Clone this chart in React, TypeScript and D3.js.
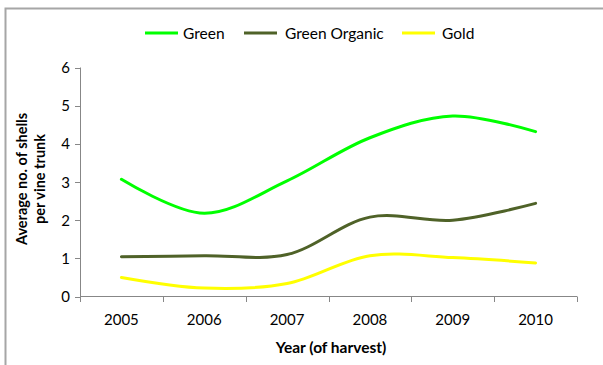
import React from "react";
import * as d3 from "d3";

const years = ["2005", "2006", "2007", "2008", "2009", "2010"];
const green = [3.07, 2.18, 3.03, 4.16, 4.73, 4.32];
const greenOrganic = [1.04, 1.07, 1.1, 2.08, 2.0, 2.44];
const gold = [0.5, 0.22, 0.34, 1.07, 1.02, 0.88];
const yTicks = [0, 1, 2, 3, 4, 5, 6];

const seriesNames = ["Green", "Green Organic", "Gold"];
const seriesColors = ["#00FF00", "#4F6228", "#FFFF00"];

const W = 603;
const H = 365;
const FONT = "Lato, 'Open Sans', sans-serif";

export default function App() {
  const series = [green, greenOrganic, gold];
  const x = d3.scaleBand<string>().domain(years).range([80, 577]);
  const y = d3.scaleLinear().domain([0, 6]).range([296.5, 67.5]);
  const line = d3
    .line<number>()
    .x((_, i) => (x(years[i]) as number) + x.bandwidth() / 2)
    .y((d) => y(d))
    .curve(d3.curveCatmullRom.alpha(0.5));

  const edges = years.map((yr) => x(yr) as number).concat([x.range()[1]]);
  const axisColor = "#878787";

  const legendItems = [
    { lx: 145, tx: 183 },
    { lx: 244, tx: 285 },
    { lx: 402, tx: 442 },
  ];

  return (
    <svg
      width={W}
      height={H}
      style={{ position: "fixed", left: 0, top: 0, background: "#fff" }}
      fontFamily={FONT}
    >
      <rect x={0} y={0} width={W} height={H} fill="#fff" />
      <rect x={5.5} y={8.5} width={800} height={600} fill="none" stroke="#A6A6A6" strokeWidth={2} />

      {/* legend */}
      {seriesNames.map((name, i) => (
        <g key={name}>
          <line
            x1={legendItems[i].lx}
            x2={legendItems[i].lx + 33}
            y1={33}
            y2={33}
            stroke={seriesColors[i]}
            strokeWidth={3}
          />
          <text x={legendItems[i].tx} y={38.5} fontSize={15.5} fill="#000">
            {name}
          </text>
        </g>
      ))}

      {/* y axis */}
      <line x1={80.5} x2={80.5} y1={y(6)} y2={y(0)} stroke={axisColor} strokeWidth={1} />
      {yTicks.map((t) => (
        <g key={t}>
          <line x1={75} x2={80.5} y1={Math.round(y(t)) + 0.5} y2={Math.round(y(t)) + 0.5} stroke={axisColor} />
          <text x={70} y={y(t) + 5.5} fontSize={15} textAnchor="end" fill="#000">
            {t}
          </text>
        </g>
      ))}

      {/* x axis */}
      <line x1={80} x2={x.range()[1]} y1={296.5} y2={296.5} stroke={axisColor} strokeWidth={1} />
      {edges.map((e, i) => (
        <line key={i} x1={Math.round(e) + 0.5} x2={Math.round(e) + 0.5} y1={296.5} y2={302} stroke={axisColor} />
      ))}
      {years.map((yr) => (
        <text
          key={yr}
          x={(x(yr) as number) + x.bandwidth() / 2}
          y={325}
          fontSize={15}
          textAnchor="middle"
          fill="#000"
        >
          {yr}
        </text>
      ))}

      {/* axis titles */}
      <text x={331} y={353} fontSize={15.5} fontWeight="bold" textAnchor="middle" fill="#000">
        Year (of harvest)
      </text>
      <g transform="translate(0,179) rotate(-90)">
        <text x={0} y={27} fontSize={14.5} fontWeight="bold" textAnchor="middle" fill="#000">
          Average no. of shells
        </text>
        <text x={0} y={45} fontSize={14.5} fontWeight="bold" textAnchor="middle" fill="#000">
          per vine trunk
        </text>
      </g>

      {/* lines */}
      {series.map((s, i) => (
        <path
          key={i}
          d={line(s) as string}
          fill="none"
          stroke={seriesColors[i]}
          strokeWidth={3}
          strokeLinecap="round"
        />
      ))}
    </svg>
  );
}
